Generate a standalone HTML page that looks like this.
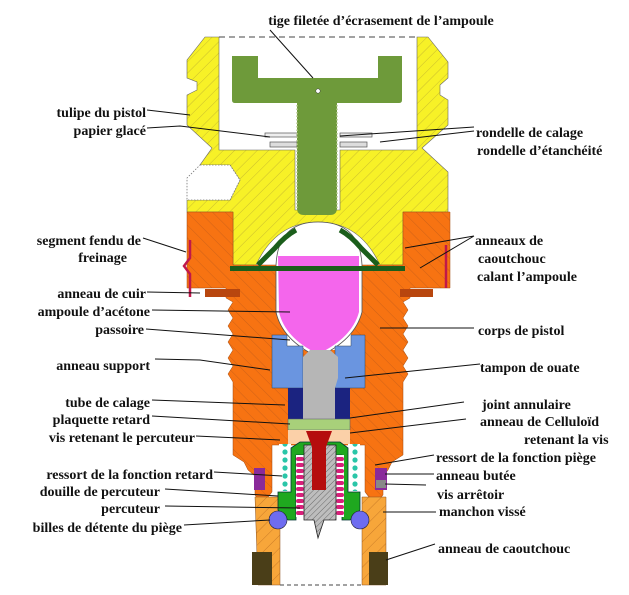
<!DOCTYPE html>
<html><head><meta charset="utf-8"><style>
html,body{margin:0;padding:0;background:#fff;}
svg{display:block}
text{font-family:"Liberation Serif",serif;font-weight:bold;font-size:14px;fill:#111;}
</style></head><body>
<svg width="629" height="595" viewBox="0 0 629 595" xmlns="http://www.w3.org/2000/svg">
<defs>
<pattern id="hy" width="8" height="8" patternUnits="userSpaceOnUse" patternTransform="rotate(45)">
<rect width="8" height="8" fill="#f7f127"/><line x1="0" y1="0" x2="0" y2="8" stroke="#b8a830" stroke-width="0.7"/></pattern>
<pattern id="ho" width="9" height="9" patternUnits="userSpaceOnUse" patternTransform="rotate(-45)">
<rect width="9" height="9" fill="#f77312"/><line x1="0" y1="0" x2="0" y2="9" stroke="#c05a18" stroke-width="0.7"/></pattern>
<pattern id="hl" width="9" height="9" patternUnits="userSpaceOnUse" patternTransform="rotate(45)">
<rect width="9" height="9" fill="#f7a63a"/><line x1="0" y1="0" x2="0" y2="9" stroke="#b86a20" stroke-width="0.7"/></pattern>
<pattern id="hg" width="4" height="4" patternUnits="userSpaceOnUse" patternTransform="rotate(45)">
<rect width="4" height="4" fill="#bdbdbd"/><line x1="0" y1="0" x2="0" y2="4" stroke="#555" stroke-width="0.8"/></pattern>
<pattern id="cy" width="10" height="8" patternUnits="userSpaceOnUse">
<rect width="10" height="8" fill="#fff"/><circle cx="5" cy="4" r="2.6" fill="#2ac6a8"/></pattern>
<pattern id="pk" width="8" height="6" patternUnits="userSpaceOnUse">
<rect width="8" height="6" fill="#fff"/><rect x="0" y="1" width="8" height="4" rx="2" fill="#d8207a"/></pattern>
</defs>

<!-- yellow tulip -->
<path d="M205,37 L219,37 L219,150 L295,150 L295,210 L340,210 L340,150 L417,150 L417,37 L428,37 L448,62 L448,78 L440,85 L440,95 L448,100 L448,125 L422,148 L448,172 L448,212 L403,212 L403,265 L380,265 Q360,222 318,222 Q276,222 256,265 L233,265 L233,212 L187,212 L187,200 L230,200 L240,180 L230,165 L200,165 L212,148 L187,125 L187,95 L197,90 L197,82 L187,78 L187,60 Z" fill="url(#hy)" stroke="#666" stroke-width="0.6"/>
<path d="M200,165 L230,165 L240,180 L230,200 L187,200 L187,178 Z" fill="#fff" stroke="#777" stroke-width="0.8" stroke-dasharray="1.5,1.5"/>
<path d="M219,37 L417,37" stroke="#444" stroke-width="1" stroke-dasharray="6,4"/>
<rect x="265" y="133" width="32" height="4" fill="#eee" stroke="#555" stroke-width="0.7"/>
<rect x="270" y="142" width="27" height="5" fill="#ddd" stroke="#555" stroke-width="0.7"/>
<rect x="340" y="133" width="32" height="4" fill="#eee" stroke="#555" stroke-width="0.7"/>
<rect x="340" y="142" width="27" height="5" fill="#ddd" stroke="#555" stroke-width="0.7"/>

<!-- orange body -->
<path d="M187,212 L233,212 L233,265 L403,265 L403,212 L450,212 L450,288 L410,288 L410,298 L403,302 L408,310 L403,318 L408,326 L403,334 L408,342 L403,350 L408,358 L403,366 L408,374 L403,382 L403,455 L392,462 L388,470 L383,476 L383,495 L375,505 L365,492 L365,445 L272,445 L272,492 L262,505 L255,495 L255,476 L248,470 L244,462 L233,455 L233,382 L228,374 L233,366 L228,358 L233,350 L228,342 L233,334 L228,326 L233,318 L228,310 L233,302 L226,298 L226,288 L187,288 Z" fill="url(#ho)" stroke="#a04a10" stroke-width="0.5"/>
<rect x="287" y="325" width="64" height="25" fill="#fff"/>

<rect x="205" y="289" width="35" height="8" fill="#b8460e"/>
<rect x="400" y="289" width="33" height="8" fill="#b8460e"/>
<path d="M190,240 L190,258 L184,266 L190,274 L190,297" fill="none" stroke="#c0184a" stroke-width="2.5"/>
<path d="M446,245 L446,288" stroke="#c0184a" stroke-width="2.5"/>

<!-- green tige -->
<path d="M232,56 L258,56 L258,78 L378,78 L378,56 L402,56 L402,100 Q402,103 399,103 L337,103 L337,208 Q337,215 330,215 L304,215 Q297,215 297,208 L297,103 L235,103 Q232,103 232,100 Z" fill="#6e9a3a"/>
<circle cx="318" cy="91" r="2.2" fill="#fff" stroke="#333" stroke-width="0.5"/>
<path d="M297,105 L297,208 M337,105 L337,208" stroke="#b5c890" stroke-width="1.5" stroke-dasharray="1.5,2"/>

<!-- ampoule -->
<path d="M276,265 Q278,222 318,222 Q360,222 362,265 L362,312 Q355,340 318,357 Q282,340 276,312 Z" fill="#fff" stroke="#555" stroke-width="0.8"/>
<path d="M278,256 L359,256 L359,312 Q352,338 318,354 Q285,338 279,312 Z" fill="#f466ec"/>
<path d="M258,265 Q268,255 275,248 Q285,236 296,230 M340,230 Q351,236 361,248 Q368,255 378,265" fill="none" stroke="#1b5e1b" stroke-width="5"/>
<rect x="230" y="266" width="175" height="5" fill="#1b5e1b"/>

<!-- anneau support -->
<path d="M272,335 L287,335 L287,346 L303,346 L303,388 L272,388 Z" fill="#6a95e0" stroke="#345" stroke-width="0.5"/>
<path d="M351,335 L365,335 L365,388 L335,388 L335,346 L351,346 Z" fill="#6a95e0" stroke="#345" stroke-width="0.5"/>
<path d="M303,357 L310,350 L330,350 L338,357 L338,378 L335,388 L335,419 L303,419 Z" fill="#b6b6b6"/>
<rect x="288" y="388" width="15" height="31" fill="#1b2380"/>
<rect x="335" y="388" width="15" height="31" fill="#1b2380"/>
<rect x="288" y="419" width="62" height="11" fill="#a8d07a" stroke="#556" stroke-width="0.5"/>
<rect x="288" y="430" width="62" height="14" fill="#fbd0a8"/>

<!-- lower manchon -->
<path d="M255,497 L280,497 L280,585 L258,585 Z" fill="url(#hl)" stroke="#8a5020" stroke-width="0.5"/>
<path d="M362,497 L386,497 L386,585 L362,585 Z" fill="url(#hl)" stroke="#8a5020" stroke-width="0.5"/>
<path d="M280,585 L362,585" stroke="#444" stroke-dasharray="4,3"/>
<rect x="252" y="552" width="20" height="33" fill="#4a3e18"/>
<rect x="369" y="552" width="19" height="33" fill="#4a3e18"/>
<rect x="254" y="468" width="11" height="22" fill="#8a2a9a"/>
<rect x="375" y="468" width="12" height="22" fill="#8a2a9a"/>
<rect x="376" y="480" width="10" height="8" fill="#888"/>

<rect x="279" y="444" width="12" height="47" fill="url(#cy)"/>
<rect x="348" y="444" width="12" height="47" fill="url(#cy)"/>
<path d="M278,492 L291,492 L291,448 L300,442 L340,442 L348,448 L348,492 L360,492 L360,510 L350,520 L342,520 L342,455 L296,455 L296,520 L288,520 L278,510 Z" fill="#1fa81f" stroke="#033" stroke-width="0.8"/>
<rect x="296" y="455" width="8" height="62" fill="url(#pk)"/>
<rect x="336" y="455" width="8" height="62" fill="url(#pk)"/>
<path d="M304,445 L336,445 L336,520 L324,520 L318,538 L314,520 L304,520 Z" fill="url(#hg)" stroke="#222" stroke-width="0.8"/>
<path d="M306,431 L332,431 L326,447 L326,490 L312,490 L312,447 Z" fill="#b50d0d"/>
<circle cx="278" cy="520" r="9" fill="#6e6cf0" stroke="#223" stroke-width="0.6"/>
<circle cx="360" cy="520" r="9" fill="#6e6cf0" stroke="#223" stroke-width="0.6"/>

<g stroke="#111" stroke-width="1" fill="none">
<path d="M270,30 L313,78"/>
<path d="M147,110 L190,115"/>
<path d="M147,128 L180,126 L270,137"/>
<path d="M143,238 L186,252"/>
<path d="M147,292 L200,293"/>
<path d="M152,310 L290,312"/>
<path d="M146,329 L290,340"/>
<path d="M155,359 L200,360 L270,370"/>
<path d="M152,400 L285,405"/>
<path d="M152,416 L290,424"/>
<path d="M196,436 L280,440"/>
<path d="M214,472 L282,476"/>
<path d="M165,489 L278,496"/>
<path d="M165,506 L300,508"/>
<path d="M184,525 L270,520"/>
<path d="M474,127 L340,136"/>
<path d="M474,131 L380,142"/>
<path d="M474,236 L405,248 M474,236 L420,268"/>
<path d="M474,328 L380,328"/>
<path d="M480,364 L345,378"/>
<path d="M464,402 L350,418"/>
<path d="M466,419 L350,433"/>
<path d="M434,455 L375,465"/>
<path d="M434,474 L385,474"/>
<path d="M426,485 L385,484"/>
<path d="M436,512 L383,512"/>
<path d="M435,544 L386,560"/>
</g>

<text x="381" y="25" text-anchor="middle">tige filetée d’écrasement de l’ampoule</text>
<g text-anchor="end">
<text x="146" y="117">tulipe du pistol</text>
<text x="146" y="135">papier glacé</text>
<text x="141" y="245">segment fendu de</text>
<text x="127" y="262">freinage</text>
<text x="146" y="298">anneau de cuir</text>
<text x="150" y="316">ampoule d’acétone</text>
<text x="144" y="334">passoire</text>
<text x="150" y="370">anneau support</text>
<text x="150" y="407">tube de calage</text>
<text x="150" y="424">plaquette retard</text>
<text x="195" y="442">vis retenant le percuteur</text>
<text x="213" y="479">ressort de la fonction retard</text>
<text x="160" y="496">douille de percuteur</text>
<text x="160" y="513">percuteur</text>
<text x="182" y="532">billes de détente du piège</text>
</g>
<text x="476" y="137">rondelle de calage</text>
<text x="477" y="155">rondelle d’étanchéité</text>
<text x="475" y="245">anneaux de</text>
<text x="478" y="263">caoutchouc</text>
<text x="477" y="281">calant l’ampoule</text>
<text x="478" y="335">corps de pistol</text>
<text x="480" y="372">tampon de ouate</text>
<text x="482" y="409">joint annulaire</text>
<text x="480" y="426">anneau de Celluloïd</text>
<text x="524" y="444">retenant la vis</text>
<text x="436" y="462">ressort de la fonction piège</text>
<text x="436" y="480">anneau butée</text>
<text x="437" y="499">vis arrêtoir</text>
<text x="439" y="516">manchon vissé</text>
<text x="438" y="553">anneau de caoutchouc</text>
</svg>
</body></html>
